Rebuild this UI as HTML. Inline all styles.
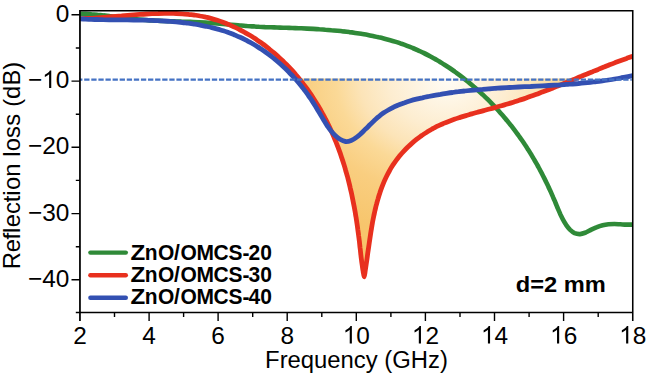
<!DOCTYPE html>
<html><head><meta charset="utf-8"><title>Reflection loss</title>
<style>html,body{margin:0;padding:0;background:#fff}body{width:646px;height:377px;overflow:hidden;font-family:"Liberation Sans",sans-serif}</style></head>
<body>
<svg width="646" height="377" viewBox="0 0 646 377" style="display:block">
<defs><radialGradient id="g" gradientUnits="userSpaceOnUse" cx="448" cy="80" r="200" gradientTransform="translate(448 80) scale(1 0.8) translate(-448 -80)"><stop offset="0" stop-color="#fffcf5"/><stop offset="0.3" stop-color="#fdedd0"/><stop offset="0.44" stop-color="#fce4b8"/><stop offset="0.56" stop-color="#fbd997"/><stop offset="0.72" stop-color="#f9ce80"/><stop offset="1" stop-color="#f7c56c"/></radialGradient><path id="one" d="M763 0L583 0L583 1147Q518 1085 412.5 1023Q307 961 223 930L223 1104Q374 1175 487 1276Q600 1377 647 1472L763 1472Z"/><clipPath id="c"><rect x="80.0" y="10.7" width="552.8" height="301.8"/></clipPath></defs>
<rect width="646" height="377" fill="#fff"/>
<path d="M299.6 79.2C300.2 80.0 302.1 82.3 303.3 83.9C304.6 85.5 305.8 87.1 306.9 88.7C308.1 90.4 309.3 92.0 310.4 93.7C311.5 95.3 312.6 97.0 313.7 98.7C314.8 100.4 315.9 102.1 316.9 103.8C318.0 105.5 319.0 107.2 320.0 108.9C321.0 110.7 322.0 112.4 322.9 114.2C323.9 116.0 324.8 117.7 325.7 119.5C326.7 121.3 327.6 123.1 328.4 124.9C329.3 126.7 330.2 128.6 331.0 130.4C331.8 132.2 332.6 134.1 333.4 135.9C334.2 137.8 335.0 139.6 335.8 141.5C336.5 143.4 337.3 145.3 338.0 147.1C338.7 149.0 339.4 150.9 340.1 152.8C340.7 154.7 341.4 156.7 342.0 158.6C342.7 160.5 343.3 162.4 343.9 164.4C344.5 166.3 345.1 168.2 345.6 170.2C346.2 172.1 346.7 174.1 347.3 176.0C347.8 178.0 348.3 179.9 348.8 181.9C349.3 183.9 349.8 185.8 350.2 187.8C350.7 189.8 351.2 191.8 351.6 193.7C352.0 195.7 352.4 197.7 352.8 199.7C353.2 201.7 353.6 203.7 354.0 205.7C354.4 207.6 354.7 209.6 355.1 211.6C355.4 213.6 355.7 215.6 356.1 217.6C356.4 219.6 356.7 221.6 357.0 223.6C357.3 225.6 357.6 227.6 357.8 229.6C358.1 231.6 358.4 233.6 358.6 235.5C358.9 237.5 359.1 239.5 359.4 241.5C359.6 243.5 359.8 245.5 360.0 247.5C360.3 249.4 360.5 251.4 360.7 253.4C360.9 255.4 361.1 257.4 361.4 259.3C361.6 261.3 361.9 263.3 362.2 265.2C362.5 267.2 362.7 269.1 363.1 271.1C363.4 273.0 363.8 276.9 364.2 276.9C364.5 276.9 364.9 273.0 365.2 271.0C365.5 269.0 365.8 267.0 366.1 265.0C366.4 263.0 366.7 261.0 367.0 259.0C367.3 257.0 367.5 254.9 367.8 252.9C368.1 250.9 368.4 248.9 368.7 246.8C369.0 244.8 369.3 242.7 369.6 240.7C369.9 238.7 370.2 236.6 370.5 234.6C370.8 232.6 371.1 230.5 371.5 228.5C371.8 226.5 372.2 224.4 372.5 222.4C372.9 220.4 373.3 218.4 373.7 216.4C374.1 214.4 374.6 212.4 375.0 210.4C375.5 208.4 375.9 206.4 376.5 204.4C377.0 202.5 377.5 200.5 378.1 198.6C378.6 196.7 379.2 194.7 379.9 192.8C380.5 190.9 381.2 189.0 381.9 187.2C382.6 185.3 383.3 183.5 384.1 181.6C384.9 179.8 385.7 178.0 386.6 176.2C387.5 174.4 388.4 172.7 389.4 171.0C390.3 169.2 391.3 167.5 392.4 165.8C393.5 164.2 394.6 162.5 395.8 160.9C396.9 159.3 398.2 157.7 399.4 156.1C400.7 154.6 402.0 153.1 403.4 151.6C404.8 150.1 406.2 148.6 407.6 147.2C409.1 145.8 410.6 144.4 412.1 143.1C413.6 141.8 415.2 140.5 416.8 139.2C418.4 137.9 420.1 136.7 421.7 135.5C423.4 134.4 425.1 133.2 426.8 132.2C428.6 131.1 430.3 130.0 432.1 129.0C433.9 128.1 435.7 127.1 437.5 126.2C439.3 125.3 441.2 124.5 443.0 123.7C444.9 122.9 446.7 122.1 448.6 121.4C450.5 120.7 452.4 120.0 454.3 119.3C456.2 118.6 458.2 118.0 460.1 117.4C462.0 116.8 464.0 116.2 466.0 115.6C467.9 115.0 469.9 114.5 471.8 113.9C473.8 113.3 475.8 112.8 477.8 112.2C479.8 111.7 481.7 111.2 483.7 110.6C485.7 110.1 487.7 109.5 489.7 109.0C491.7 108.5 493.7 107.9 495.6 107.4C497.6 106.8 499.6 106.3 501.6 105.7C503.6 105.1 505.5 104.6 507.5 104.0C509.5 103.4 511.4 102.8 513.4 102.2C515.3 101.6 517.3 100.9 519.2 100.3C521.1 99.7 523.1 99.0 525.0 98.4C526.9 97.7 528.8 97.0 530.7 96.3C532.6 95.7 534.5 95.0 536.4 94.3C538.3 93.6 540.2 92.8 542.1 92.1C544.0 91.4 545.9 90.7 547.8 90.0C549.6 89.2 551.5 88.5 553.4 87.7C555.3 87.0 557.1 86.2 559.0 85.5C560.9 84.7 562.7 84.0 564.6 83.2C566.5 82.4 569.3 81.3 570.2 80.9L571.5 78.5L298 78.5Z" fill="url(#g)"/>
<g fill="none" stroke-width="4.8" stroke-linejoin="round" stroke-linecap="butt" clip-path="url(#c)">
<path d="M79.5 13.8C80.5 13.8 83.5 13.9 85.5 13.9C87.5 14.0 89.5 14.1 91.5 14.3C93.5 14.4 95.5 14.6 97.5 14.8C99.5 14.9 101.5 15.1 103.5 15.4C105.5 15.6 107.5 15.8 109.5 16.1C111.5 16.3 113.5 16.6 115.5 16.8C117.5 17.1 119.5 17.3 121.5 17.6C123.5 17.8 125.5 18.1 127.5 18.3C129.5 18.5 131.5 18.8 133.5 19.0C135.4 19.2 137.4 19.4 139.4 19.5C141.4 19.7 143.4 19.9 145.4 20.0C147.4 20.1 149.4 20.3 151.4 20.4C153.4 20.5 155.4 20.6 157.4 20.7C159.4 20.8 161.3 20.9 163.3 21.0C165.3 21.0 167.3 21.1 169.3 21.2C171.3 21.2 173.3 21.3 175.3 21.4C177.3 21.4 179.3 21.5 181.3 21.6C183.3 21.6 185.2 21.7 187.2 21.8C189.2 21.9 191.2 21.9 193.2 22.0C195.2 22.1 197.2 22.2 199.2 22.3C201.2 22.4 203.2 22.5 205.2 22.6C207.2 22.7 209.1 22.9 211.1 23.0C213.1 23.1 215.1 23.3 217.1 23.5C219.1 23.6 221.1 23.8 223.1 24.0C225.1 24.1 227.1 24.3 229.1 24.5C231.1 24.6 233.1 24.8 235.1 25.0C237.1 25.2 239.1 25.3 241.1 25.5C243.1 25.7 245.1 25.8 247.1 26.0C249.1 26.1 251.1 26.3 253.1 26.4C255.1 26.5 257.1 26.6 259.1 26.8C261.1 26.9 263.1 27.0 265.1 27.1C267.1 27.1 269.1 27.2 271.1 27.3C273.1 27.4 275.1 27.4 277.1 27.5C279.1 27.6 281.1 27.6 283.1 27.7C285.1 27.8 287.1 27.8 289.1 27.9C291.1 28.0 293.2 28.0 295.2 28.1C297.2 28.2 299.2 28.3 301.2 28.3C303.2 28.4 305.2 28.5 307.2 28.6C309.3 28.7 311.3 28.8 313.3 28.9C315.3 29.0 317.3 29.1 319.3 29.3C321.3 29.4 323.3 29.5 325.3 29.7C327.3 29.8 329.4 30.0 331.4 30.2C333.4 30.3 335.4 30.5 337.4 30.7C339.4 30.9 341.3 31.1 343.3 31.4C345.3 31.6 347.3 31.8 349.3 32.1C351.3 32.3 353.3 32.6 355.2 32.9C357.2 33.2 359.2 33.5 361.2 33.8C363.1 34.1 365.1 34.5 367.0 34.8C369.0 35.2 370.9 35.6 372.9 36.0C374.8 36.4 376.8 36.8 378.7 37.3C380.6 37.7 382.6 38.2 384.5 38.7C386.4 39.2 388.3 39.7 390.2 40.2C392.1 40.7 394.0 41.3 395.9 41.9C397.8 42.5 399.7 43.1 401.5 43.8C403.4 44.4 405.3 45.1 407.1 45.8C409.0 46.5 410.8 47.2 412.7 48.0C414.5 48.7 416.3 49.5 418.1 50.3C420.0 51.2 421.8 52.0 423.6 52.9C425.3 53.8 427.1 54.7 428.9 55.6C430.7 56.5 432.4 57.5 434.2 58.5C435.9 59.5 437.7 60.5 439.4 61.5C441.1 62.6 442.8 63.6 444.5 64.7C446.2 65.8 447.9 66.9 449.6 68.0C451.3 69.2 452.9 70.3 454.6 71.5C456.2 72.7 457.9 73.9 459.5 75.1C461.1 76.3 462.7 77.5 464.3 78.8C465.9 80.0 467.5 81.3 469.0 82.6C470.6 83.9 472.1 85.2 473.6 86.5C475.2 87.8 476.7 89.1 478.2 90.5C479.7 91.8 481.2 93.2 482.6 94.6C484.1 95.9 485.5 97.3 487.0 98.7C488.4 100.1 489.8 101.5 491.2 103.0C492.6 104.4 494.0 105.9 495.4 107.3C496.7 108.8 498.1 110.2 499.4 111.7C500.7 113.2 502.1 114.7 503.4 116.2C504.7 117.7 505.9 119.3 507.2 120.8C508.5 122.3 509.7 123.9 511.0 125.4C512.2 127.0 513.4 128.6 514.6 130.2C515.8 131.8 517.0 133.4 518.2 135.0C519.3 136.6 520.5 138.2 521.6 139.8C522.8 141.5 523.9 143.1 525.0 144.8C526.1 146.4 527.2 148.1 528.2 149.8C529.3 151.4 530.3 153.1 531.4 154.8C532.4 156.5 533.4 158.2 534.4 160.0C535.4 161.7 536.4 163.4 537.4 165.1C538.3 166.9 539.3 168.6 540.2 170.4C541.2 172.2 542.1 173.9 543.0 175.7C543.9 177.5 544.8 179.3 545.7 181.1C546.6 182.9 547.4 184.7 548.3 186.5C549.1 188.3 550.0 190.1 550.8 191.9C551.6 193.8 552.4 195.6 553.2 197.4C554.1 199.3 554.8 201.1 555.6 203.0C556.4 204.9 557.1 206.7 557.9 208.6C558.7 210.5 559.5 212.3 560.3 214.2C561.2 216.0 562.0 217.8 563.0 219.6C564.0 221.4 565.0 223.1 566.1 224.8C567.3 226.5 568.5 228.2 569.9 229.6C571.4 231.0 572.9 232.4 574.6 233.2C576.3 233.9 578.3 234.2 580.1 234.1C582.0 234.0 583.9 233.2 585.8 232.5C587.7 231.7 589.5 230.5 591.3 229.6C593.2 228.7 595.1 227.8 597.0 227.1C598.9 226.3 600.8 225.7 602.7 225.2C604.6 224.7 606.6 224.4 608.5 224.2C610.5 224.0 612.5 224.0 614.4 224.0C616.4 224.0 618.4 224.2 620.4 224.3C622.4 224.4 624.4 224.6 626.4 224.6C628.4 224.7 631.5 224.6 632.5 224.6" stroke="#2f8a38" stroke-width="4.6"/>
<path d="M79.5 18.7C80.5 18.7 83.4 18.6 85.4 18.5C87.4 18.5 89.4 18.4 91.4 18.3C93.4 18.2 95.4 18.1 97.4 17.9C99.4 17.8 101.4 17.7 103.4 17.5C105.4 17.3 107.4 17.2 109.4 17.0C111.5 16.9 113.5 16.7 115.5 16.5C117.5 16.3 119.6 16.1 121.6 16.0C123.6 15.8 125.7 15.6 127.7 15.4C129.7 15.3 131.8 15.1 133.8 14.9C135.8 14.8 137.9 14.6 139.9 14.4C142.0 14.3 144.0 14.2 146.0 14.0C148.1 13.9 150.1 13.8 152.1 13.7C154.2 13.6 156.2 13.5 158.2 13.5C160.2 13.4 162.3 13.3 164.3 13.3C166.3 13.3 168.3 13.3 170.3 13.3C172.3 13.4 174.4 13.4 176.4 13.5C178.4 13.6 180.4 13.7 182.3 13.8C184.3 13.9 186.3 14.1 188.3 14.3C190.3 14.5 192.2 14.8 194.2 15.0C196.2 15.3 198.1 15.6 200.1 16.0C202.0 16.3 203.9 16.7 205.9 17.2C207.8 17.6 209.7 18.1 211.6 18.6C213.5 19.1 215.4 19.7 217.3 20.3C219.2 20.9 221.1 21.6 222.9 22.3C224.8 23.0 226.6 23.7 228.5 24.4C230.3 25.2 232.1 26.0 233.9 26.9C235.8 27.7 237.6 28.6 239.3 29.5C241.1 30.4 242.9 31.3 244.6 32.3C246.4 33.3 248.1 34.3 249.8 35.3C251.6 36.4 253.3 37.5 255.0 38.6C256.6 39.7 258.3 40.8 260.0 42.0C261.6 43.1 263.2 44.3 264.9 45.5C266.5 46.7 268.1 48.0 269.6 49.3C271.2 50.5 272.8 51.8 274.3 53.1C275.9 54.5 277.4 55.8 278.9 57.2C280.4 58.5 281.8 59.9 283.3 61.3C284.7 62.8 286.2 64.2 287.6 65.6C289.0 67.1 290.4 68.6 291.7 70.0C293.1 71.5 294.4 73.0 295.7 74.6C297.0 76.1 298.3 77.6 299.6 79.2C300.9 80.8 302.1 82.3 303.3 83.9C304.6 85.5 305.8 87.1 306.9 88.7C308.1 90.4 309.3 92.0 310.4 93.7C311.5 95.3 312.6 97.0 313.7 98.7C314.8 100.4 315.9 102.1 316.9 103.8C318.0 105.5 319.0 107.2 320.0 108.9C321.0 110.7 322.0 112.4 322.9 114.2C323.9 116.0 324.8 117.7 325.7 119.5C326.7 121.3 327.6 123.1 328.4 124.9C329.3 126.7 330.2 128.6 331.0 130.4C331.8 132.2 332.6 134.1 333.4 135.9C334.2 137.8 335.0 139.6 335.8 141.5C336.5 143.4 337.3 145.3 338.0 147.1C338.7 149.0 339.4 150.9 340.1 152.8C340.7 154.7 341.4 156.7 342.0 158.6C342.7 160.5 343.3 162.4 343.9 164.4C344.5 166.3 345.1 168.2 345.6 170.2C346.2 172.1 346.7 174.1 347.3 176.0C347.8 178.0 348.3 179.9 348.8 181.9C349.3 183.9 349.8 185.8 350.2 187.8C350.7 189.8 351.2 191.8 351.6 193.7C352.0 195.7 352.4 197.7 352.8 199.7C353.2 201.7 353.6 203.7 354.0 205.7C354.4 207.6 354.7 209.6 355.1 211.6C355.4 213.6 355.7 215.6 356.1 217.6C356.4 219.6 356.7 221.6 357.0 223.6C357.3 225.6 357.6 227.6 357.8 229.6C358.1 231.6 358.4 233.6 358.6 235.5C358.9 237.5 359.1 239.5 359.4 241.5C359.6 243.5 359.8 245.5 360.0 247.5C360.3 249.4 360.5 251.4 360.7 253.4C360.9 255.4 361.1 257.4 361.4 259.3C361.6 261.3 361.9 263.3 362.2 265.2C362.5 267.2 362.7 269.1 363.1 271.1C363.4 273.0 363.8 276.9 364.2 276.9C364.5 276.9 364.9 273.0 365.2 271.0C365.5 269.0 365.8 267.0 366.1 265.0C366.4 263.0 366.7 261.0 367.0 259.0C367.3 257.0 367.5 254.9 367.8 252.9C368.1 250.9 368.4 248.9 368.7 246.8C369.0 244.8 369.3 242.7 369.6 240.7C369.9 238.7 370.2 236.6 370.5 234.6C370.8 232.6 371.1 230.5 371.5 228.5C371.8 226.5 372.2 224.4 372.5 222.4C372.9 220.4 373.3 218.4 373.7 216.4C374.1 214.4 374.6 212.4 375.0 210.4C375.5 208.4 375.9 206.4 376.5 204.4C377.0 202.5 377.5 200.5 378.1 198.6C378.6 196.7 379.2 194.7 379.9 192.8C380.5 190.9 381.2 189.0 381.9 187.2C382.6 185.3 383.3 183.5 384.1 181.6C384.9 179.8 385.7 178.0 386.6 176.2C387.5 174.4 388.4 172.7 389.4 171.0C390.3 169.2 391.3 167.5 392.4 165.8C393.5 164.2 394.6 162.5 395.8 160.9C396.9 159.3 398.2 157.7 399.4 156.1C400.7 154.6 402.0 153.1 403.4 151.6C404.8 150.1 406.2 148.6 407.6 147.2C409.1 145.8 410.6 144.4 412.1 143.1C413.6 141.8 415.2 140.5 416.8 139.2C418.4 137.9 420.1 136.7 421.7 135.5C423.4 134.4 425.1 133.2 426.8 132.2C428.6 131.1 430.3 130.0 432.1 129.0C433.9 128.1 435.7 127.1 437.5 126.2C439.3 125.3 441.2 124.5 443.0 123.7C444.9 122.9 446.7 122.1 448.6 121.4C450.5 120.7 452.4 120.0 454.3 119.3C456.2 118.6 458.2 118.0 460.1 117.4C462.0 116.8 464.0 116.2 466.0 115.6C467.9 115.0 469.9 114.5 471.8 113.9C473.8 113.3 475.8 112.8 477.8 112.2C479.8 111.7 481.7 111.2 483.7 110.6C485.7 110.1 487.7 109.5 489.7 109.0C491.7 108.5 493.7 107.9 495.6 107.4C497.6 106.8 499.6 106.3 501.6 105.7C503.6 105.1 505.5 104.6 507.5 104.0C509.5 103.4 511.4 102.8 513.4 102.2C515.3 101.6 517.3 100.9 519.2 100.3C521.1 99.7 523.1 99.0 525.0 98.4C526.9 97.7 528.8 97.0 530.7 96.3C532.6 95.7 534.5 95.0 536.4 94.3C538.3 93.6 540.2 92.8 542.1 92.1C544.0 91.4 545.9 90.7 547.8 90.0C549.6 89.2 551.5 88.5 553.4 87.7C555.3 87.0 557.1 86.2 559.0 85.5C560.9 84.7 562.7 84.0 564.6 83.2C566.5 82.4 568.3 81.7 570.2 80.9C572.1 80.1 573.9 79.4 575.8 78.6C577.6 77.8 579.5 77.0 581.4 76.3C583.2 75.5 585.1 74.7 587.0 74.0C588.8 73.2 590.7 72.4 592.6 71.7C594.5 70.9 596.3 70.1 598.2 69.4C600.1 68.6 602.0 67.8 603.9 67.1C605.7 66.3 607.6 65.6 609.5 64.8C611.4 64.1 613.3 63.4 615.2 62.6C617.1 61.9 619.0 61.2 620.9 60.5C622.8 59.8 624.8 59.1 626.7 58.4C628.6 57.7 631.5 56.6 632.5 56.3" stroke="#e8301e"/>
<path d="M79.5 18.8C80.5 18.9 83.4 19.0 85.4 19.1C87.3 19.2 89.3 19.3 91.3 19.3C93.2 19.4 95.2 19.5 97.2 19.5C99.2 19.6 101.2 19.6 103.2 19.7C105.2 19.7 107.2 19.7 109.2 19.8C111.2 19.8 113.2 19.8 115.3 19.8C117.3 19.8 119.3 19.9 121.3 19.9C123.4 19.9 125.4 19.9 127.4 19.9C129.4 20.0 131.5 20.0 133.5 20.0C135.6 20.0 137.6 20.1 139.6 20.1C141.7 20.1 143.7 20.2 145.8 20.2C147.8 20.3 149.8 20.3 151.9 20.4C153.9 20.5 156.0 20.6 158.0 20.7C160.0 20.8 162.1 20.9 164.1 21.0C166.1 21.1 168.2 21.2 170.2 21.4C172.2 21.5 174.2 21.7 176.2 21.9C178.3 22.1 180.3 22.3 182.3 22.5C184.3 22.7 186.3 23.0 188.3 23.2C190.3 23.5 192.3 23.8 194.3 24.1C196.2 24.4 198.2 24.7 200.2 25.1C202.1 25.5 204.1 25.8 206.1 26.3C208.0 26.7 210.0 27.1 211.9 27.6C213.8 28.1 215.7 28.6 217.7 29.1C219.6 29.7 221.5 30.2 223.4 30.8C225.3 31.4 227.1 32.1 229.0 32.8C230.9 33.4 232.7 34.2 234.6 34.9C236.4 35.7 238.2 36.5 240.1 37.3C241.9 38.1 243.7 39.0 245.5 39.9C247.3 40.8 249.0 41.8 250.8 42.7C252.5 43.7 254.3 44.7 256.0 45.8C257.7 46.9 259.4 47.9 261.1 49.1C262.8 50.2 264.5 51.3 266.1 52.5C267.8 53.7 269.4 54.9 271.0 56.2C272.6 57.4 274.2 58.7 275.7 60.0C277.3 61.3 278.8 62.6 280.4 64.0C281.9 65.3 283.4 66.7 284.8 68.1C286.3 69.5 287.7 70.9 289.1 72.3C290.5 73.8 291.9 75.2 293.3 76.7C294.6 78.2 296.0 79.7 297.3 81.2C298.6 82.7 299.8 84.2 301.1 85.8C302.3 87.3 303.5 88.9 304.7 90.4C305.9 92.0 307.1 93.6 308.2 95.2C309.4 96.8 310.5 98.5 311.6 100.1C312.7 101.8 313.7 103.4 314.8 105.1C315.8 106.8 316.8 108.5 317.8 110.2C318.9 111.9 319.9 113.6 320.9 115.4C321.9 117.1 323.0 118.9 324.1 120.7C325.1 122.4 326.2 124.3 327.4 126.0C328.6 127.7 329.8 129.5 331.1 131.1C332.4 132.7 333.7 134.2 335.2 135.6C336.7 137.0 338.3 138.3 340.0 139.3C341.7 140.3 343.6 141.3 345.5 141.5C347.4 141.7 349.3 141.2 351.2 140.5C353.0 139.8 354.8 138.6 356.4 137.4C358.1 136.2 359.6 134.8 361.2 133.4C362.7 132.0 364.1 130.5 365.6 129.1C367.1 127.7 368.5 126.2 369.9 124.8C371.4 123.4 372.8 122.0 374.2 120.6C375.7 119.3 377.1 118.0 378.7 116.7C380.2 115.4 381.7 114.2 383.3 113.1C384.9 112.0 386.6 110.9 388.3 110.0C390.0 109.0 391.7 108.0 393.5 107.2C395.3 106.3 397.2 105.5 399.0 104.8C400.9 104.0 402.8 103.3 404.7 102.7C406.6 102.0 408.5 101.4 410.5 100.8C412.5 100.2 414.4 99.7 416.4 99.2C418.4 98.7 420.4 98.2 422.4 97.8C424.4 97.3 426.5 96.9 428.5 96.5C430.5 96.1 432.5 95.7 434.5 95.3C436.5 95.0 438.5 94.6 440.5 94.3C442.5 93.9 444.5 93.6 446.5 93.3C448.5 93.0 450.5 92.7 452.6 92.5C454.6 92.2 456.6 91.9 458.6 91.7C460.6 91.4 462.6 91.2 464.6 91.0C466.6 90.7 468.6 90.5 470.6 90.3C472.6 90.1 474.6 89.9 476.6 89.8C478.6 89.6 480.6 89.4 482.6 89.3C484.6 89.1 486.6 88.9 488.6 88.8C490.6 88.7 492.6 88.5 494.6 88.4C496.6 88.3 498.6 88.1 500.6 88.0C502.6 87.9 504.6 87.8 506.6 87.7C508.6 87.6 510.6 87.4 512.6 87.3C514.6 87.2 516.6 87.1 518.6 87.0C520.6 86.9 522.6 86.8 524.6 86.7C526.6 86.6 528.6 86.5 530.6 86.5C532.6 86.4 534.6 86.3 536.6 86.2C538.6 86.1 540.6 86.0 542.6 85.9C544.6 85.8 546.6 85.7 548.6 85.5C550.6 85.4 552.6 85.3 554.6 85.2C556.6 85.1 558.5 85.0 560.5 84.8C562.5 84.7 564.5 84.6 566.5 84.4C568.5 84.3 570.5 84.1 572.5 84.0C574.5 83.8 576.5 83.6 578.5 83.5C580.5 83.3 582.5 83.1 584.5 82.9C586.5 82.7 588.5 82.5 590.5 82.3C592.5 82.1 594.5 81.8 596.5 81.6C598.5 81.4 600.5 81.1 602.5 80.8C604.5 80.6 606.5 80.3 608.5 80.0C610.5 79.7 612.5 79.4 614.5 79.0C616.5 78.7 618.5 78.4 620.5 78.0C622.5 77.6 624.5 77.3 626.5 76.9C628.5 76.5 631.5 75.8 632.5 75.6" stroke="#3350b2"/>
</g>
<path d="M80 79.6H631.8" stroke="#4472c4" stroke-width="2.1" stroke-dasharray="5.3 1.793" stroke-dashoffset="2.9" fill="none"/>
<g stroke="#000" stroke-width="1.4" fill="none">
<path d="M79.95 10.00V321.00" stroke-width="1.75"/>
<path d="M632.75 10.00V321.00" stroke-width="1.55"/>
<path d="M79.95 10.70H632.75" stroke-width="1.4"/>
<path d="M79.95 312.50H632.75" stroke-width="1.5"/>
<path d="M71.5 14.8H80.0M75.8 48.0H80.0M71.5 81.1H80.0M75.8 114.2H80.0M71.5 147.3H80.0M75.8 180.4H80.0M71.5 213.6H80.0M75.8 246.7H80.0M71.5 279.8H80.0M75.8 312.5H80.0M114.5 312.5V317.1M149.1 312.5V321.0M183.6 312.5V317.1M218.1 312.5V321.0M252.7 312.5V317.1M287.2 312.5V321.0M321.8 312.5V317.1M356.3 312.5V321.0M390.9 312.5V317.1M425.4 312.5V321.0M460.0 312.5V317.1M494.5 312.5V321.0M529.1 312.5V317.1M563.6 312.5V321.0M598.2 312.5V317.1"/>
</g>
<g stroke-width="4.4" stroke-linecap="round" fill="none">
<path d="M90.4 252.6H125.8" stroke="#2f8a38"/>
<path d="M90.4 275.3H125.8" stroke="#e8301e"/>
<path d="M90.4 297.8H125.8" stroke="#3350b2"/>
</g>
<g font-family="'Liberation Sans', sans-serif" fill="#000">
<g font-size="24.4">
<text x="69.3" y="21.8" text-anchor="end">0</text>
<text x="69.30" y="88.0" text-anchor="end">0</text>
<use href="#one" transform="translate(42.17 87.99) scale(0.01191 -0.01191)"/>
<text x="42.17" y="88.0" text-anchor="end">−</text>
<text x="69.3" y="154.2" text-anchor="end">−20</text>
<text x="69.3" y="220.5" text-anchor="end">−30</text>
<text x="69.3" y="286.7" text-anchor="end">−40</text>
<text x="80.0" y="343.5" text-anchor="middle">2</text>
<text x="149.1" y="343.5" text-anchor="middle">4</text>
<text x="218.1" y="343.5" text-anchor="middle">6</text>
<text x="287.2" y="343.5" text-anchor="middle">8</text>
<use href="#one" transform="translate(342.78 343.50) scale(0.01191 -0.01191)"/>
<text x="356.35" y="343.5">0</text>
<use href="#one" transform="translate(411.88 343.50) scale(0.01191 -0.01191)"/>
<text x="425.45" y="343.5">2</text>
<use href="#one" transform="translate(480.98 343.50) scale(0.01191 -0.01191)"/>
<text x="494.55" y="343.5">4</text>
<use href="#one" transform="translate(550.08 343.50) scale(0.01191 -0.01191)"/>
<text x="563.65" y="343.5">6</text>
<use href="#one" transform="translate(619.18 343.50) scale(0.01191 -0.01191)"/>
<text x="632.75" y="343.5">8</text>
<text x="356.5" y="368.2" text-anchor="middle" font-size="23.85">Frequency (GHz)</text>
<text transform="translate(20.4 165.2) rotate(-90)" text-anchor="middle" font-size="23.8" dx="-0.3 -0.4 -0.4 0 0.4 0 -0.3 -0.1 0.4 0.1 0.1 0.1 0.1 0.1 0.2 0.3 0.2 0 0.1 -0.1">Reflection loss (dB)</text>
</g>
<g font-weight="bold" font-size="21.2">
<text transform="translate(130.4 259.6) scale(1.14 1)">Z</text>
<text transform="translate(144.8 259.6) scale(0.99 1)" dx="0 0.5 -0.5 0.8 -0.3 -0.6 -0.1 0 -0.9 0">nO/OMCS-20</text>
<text transform="translate(130.4 281.9) scale(1.14 1)">Z</text>
<text transform="translate(144.8 281.9) scale(0.99 1)" dx="0 0.5 -0.5 0.8 -0.3 -0.6 -0.1 0 -0.9 0">nO/OMCS-30</text>
<text transform="translate(130.4 304.0) scale(1.14 1)">Z</text>
<text transform="translate(144.8 304.0) scale(0.99 1)" dx="0 0.5 -0.5 0.8 -0.3 -0.6 -0.1 0 -0.9 0">nO/OMCS-40</text>
</g>
<text transform="translate(515.7 292) scale(1.066 1)" font-weight="bold" font-size="22.2">d=2 mm</text>
</g>
</svg>
</body></html>
